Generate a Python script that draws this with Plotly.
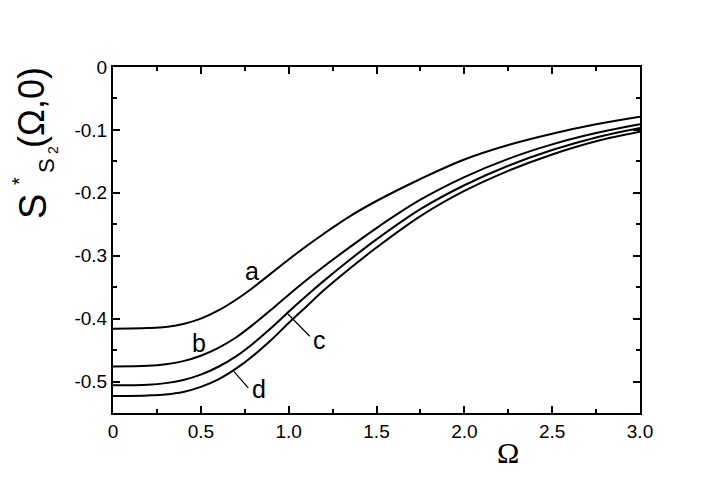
import plotly.graph_objects as go

# Data
omega = [0, 0.2, 0.3, 0.4, 0.5, 0.6, 0.7, 0.8, 0.9, 1.0, 1.1, 1.2, 1.35, 1.5, 1.75, 2.0, 2.25, 2.5, 2.75, 3.0]
curve_a = [-0.416, -0.415, -0.4133, -0.4085, -0.400, -0.387, -0.370, -0.350, -0.328, -0.306, -0.285, -0.265, -0.237, -0.213, -0.178, -0.147, -0.124, -0.106, -0.091, -0.079]
curve_b = [-0.476, -0.475, -0.4725, -0.4675, -0.459, -0.4465, -0.430, -0.409, -0.386, -0.362, -0.339, -0.317, -0.286, -0.256, -0.211, -0.175, -0.146, -0.123, -0.105, -0.091]
curve_c = [-0.506, -0.505, -0.5025, -0.4975, -0.489, -0.4765, -0.460, -0.439, -0.415, -0.389, -0.364, -0.340, -0.306, -0.274, -0.226, -0.188, -0.157, -0.132, -0.112, -0.097]
curve_d = [-0.523, -0.522, -0.5205, -0.5165, -0.5085, -0.4965, -0.4795, -0.4585, -0.434, -0.407, -0.381, -0.355, -0.320, -0.287, -0.237, -0.197, -0.165, -0.139, -0.118, -0.103]
series_names = ["a", "b", "c", "d"]

x_tickvals = [0, 0.5, 1.0, 1.5, 2.0, 2.5, 3.0]
x_ticktext = ["0", "0.5", "1.0", "1.5", "2.0", "2.5", "3.0"]
y_tickvals = [0, -0.1, -0.2, -0.3, -0.4, -0.5]
y_ticktext = ["0", "-0.1", "-0.2", "-0.3", "-0.4", "-0.5"]

fig = go.Figure()
for name, ys in zip(series_names, [curve_a, curve_b, curve_c, curve_d]):
    fig.add_trace(go.Scatter(x=omega, y=ys, mode="lines", name=name,
                             line=dict(color="black", width=2, shape="spline", smoothing=1.0),
                             showlegend=False, hoverinfo="skip"))

axis_common = dict(showline=True, linecolor="black", linewidth=2, mirror="allticks",
                   ticks="inside", tickcolor="black", tickwidth=1.5, ticklen=7,
                   showgrid=False, zeroline=False,
                   tickfont=dict(family="Liberation Sans, Arial", size=19, color="black"))

fig.update_xaxes(range=[0, 3.0], tickvals=x_tickvals, ticktext=x_ticktext,
                 minor=dict(ticks="inside", ticklen=4, tickwidth=1.5, tickcolor="black", dtick=0.25),
                 **axis_common)
fig.update_yaxes(range=[-0.55, 0], tickvals=y_tickvals, ticktext=y_ticktext,
                 minor=dict(ticks="inside", ticklen=4, tickwidth=1.5, tickcolor="black", dtick=0.05, tick0=0),
                 **axis_common)

lab_font = dict(family="Liberation Sans, Arial", size=25, color="black")
labels = [("a", 0.79, -0.325), ("b", 0.49, -0.438), ("c", 1.175, -0.434), ("d", 0.83, -0.512)]
for t, lx, ly in labels:
    fig.add_annotation(x=lx, y=ly, text=t, showarrow=False, font=lab_font, xref="x", yref="y",
                       xanchor="center", yanchor="middle")
# leader lines
fig.add_shape(type="line", x0=0.99, y0=-0.391, x1=1.12, y1=-0.428, xref="x", yref="y",
              line=dict(color="black", width=1.2))
fig.add_shape(type="line", x0=0.685, y0=-0.483, x1=0.77, y1=-0.510, xref="x", yref="y",
              line=dict(color="black", width=1.2))

def px(xp):
    return (xp - 113) / 527

def py(yp):
    return (413 - yp) / 346

# x axis title (Omega, serif)
fig.add_annotation(x=px(508), y=py(452), xref="paper", yref="paper", text="Ω",
                   xanchor="center", yanchor="middle", showarrow=False,
                   font=dict(family="Liberation Serif, Times New Roman", size=30, color="black"))

# y axis title pieces (rotated)
yt_font = "Liberation Sans, Arial"
title_parts = [("S", 33, 207, 38), ("*", 19, 181, 20), ("S", 46, 166, 22), ("2", 53, 150, 14), ("(Ω,0)", 32, 108, 36)]
for t, xx, yy, sz in title_parts:
    fig.add_annotation(x=px(xx), y=py(yy), xref="paper", yref="paper", text=t, textangle=-90,
                       xanchor="center", yanchor="middle", showarrow=False,
                       font=dict(family=yt_font, size=sz, color="black"))

fig.update_layout(width=705, height=488, plot_bgcolor="white", paper_bgcolor="white",
                  margin=dict(l=105, r=73, t=59, b=83))

fig.write_html("out.html")
